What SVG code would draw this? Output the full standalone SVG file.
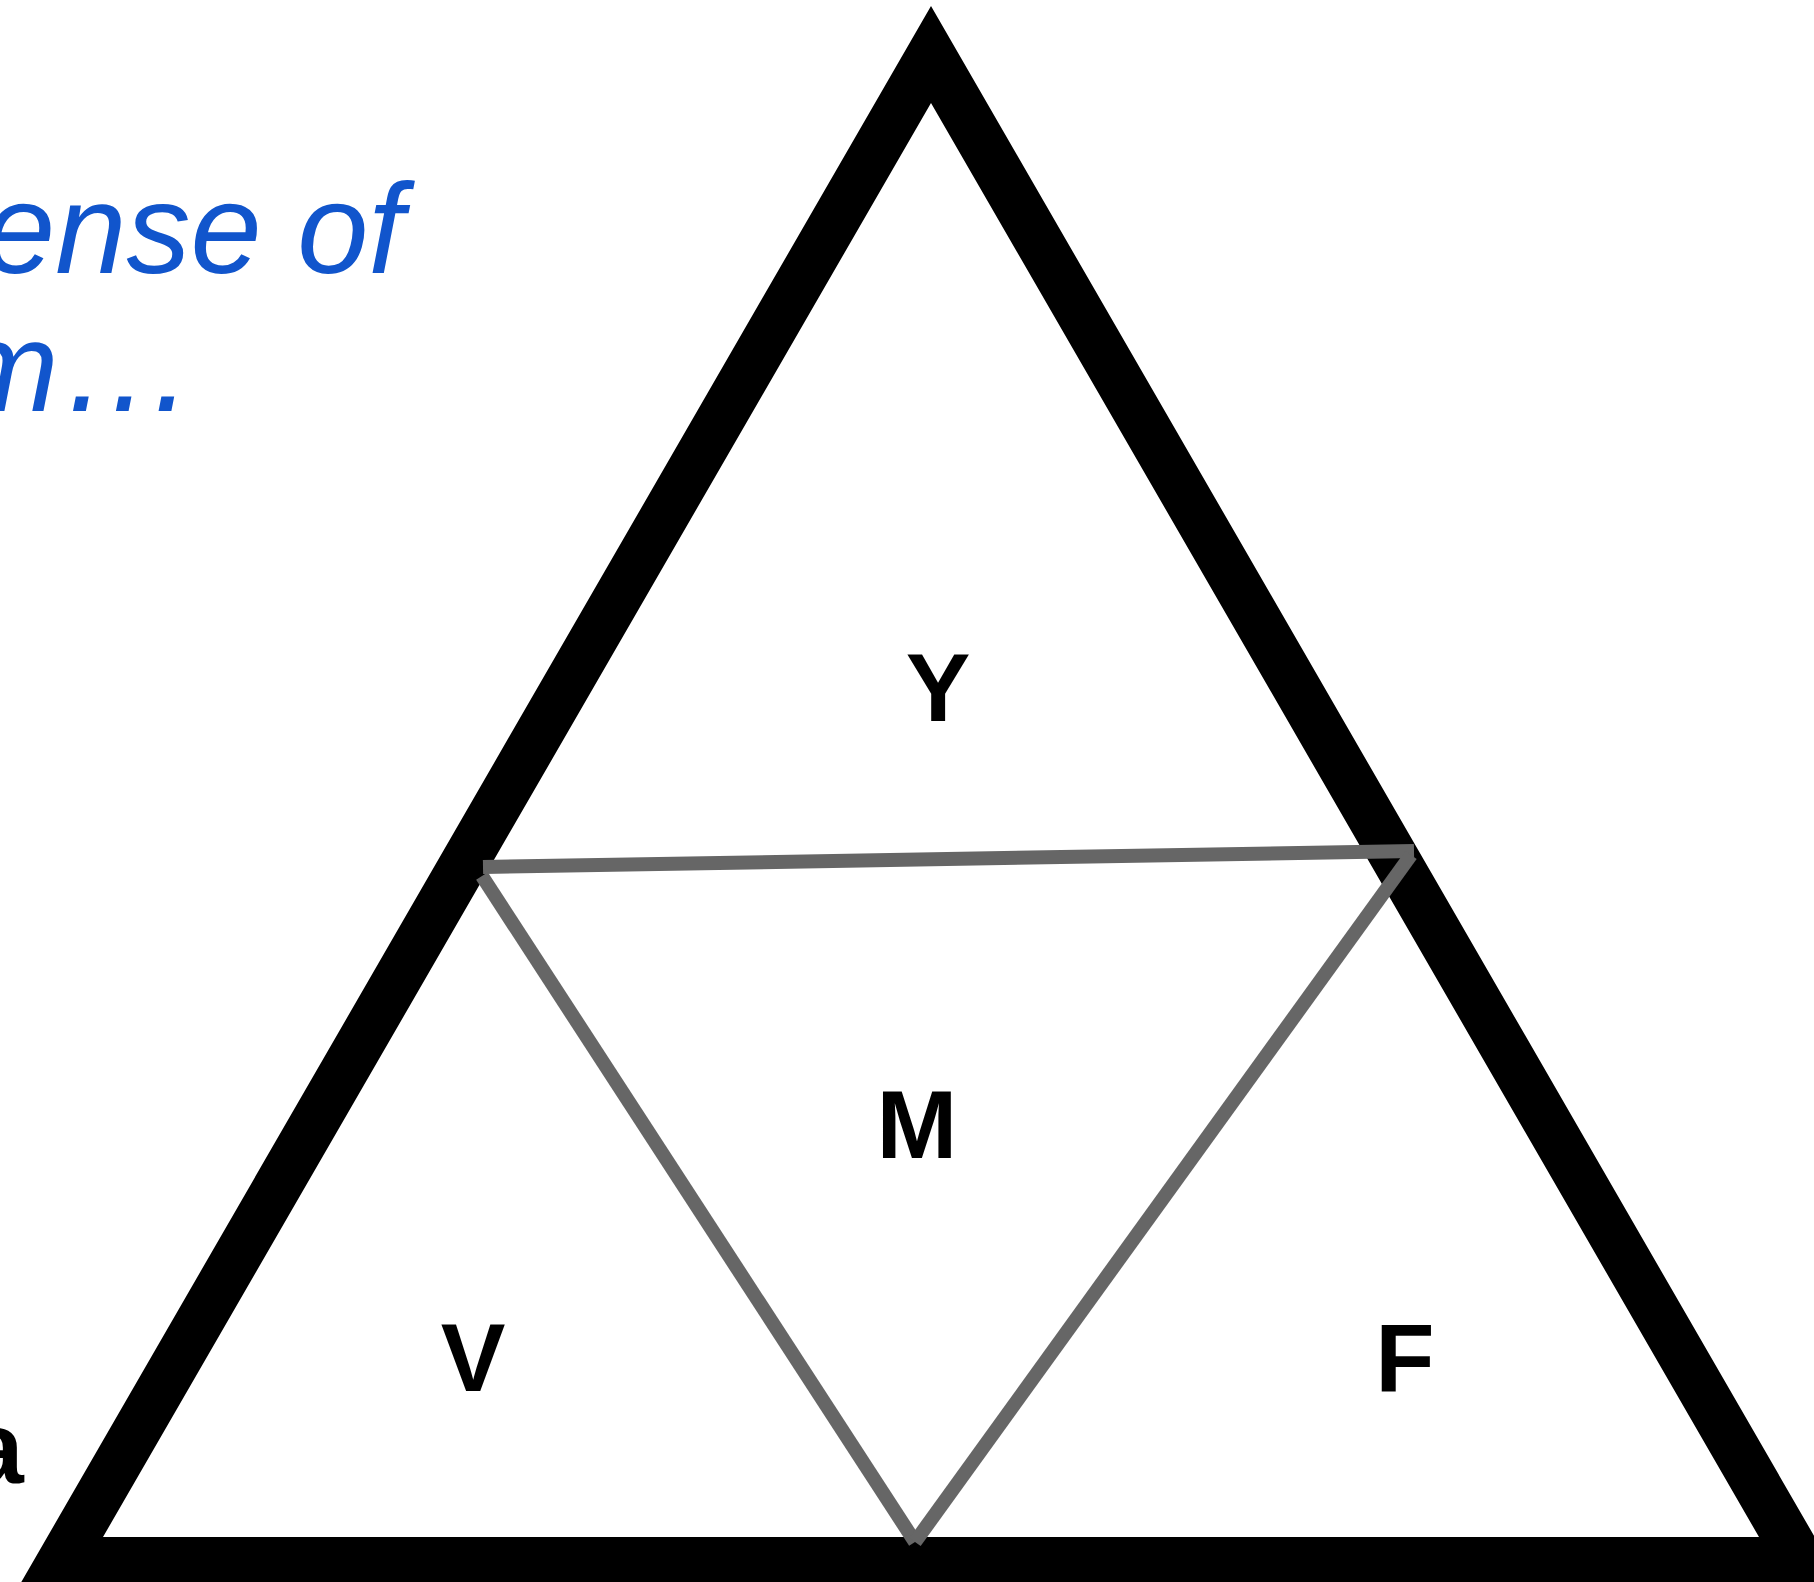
<svg xmlns="http://www.w3.org/2000/svg" width="1814" height="1582" viewBox="0 0 1814 1582">
<style>
.lbl{font-family:"Liberation Sans",Arial,sans-serif;font-weight:bold;font-size:97px;fill:#000;text-anchor:middle}
.blue{font-family:"Liberation Sans",Arial,sans-serif;font-style:italic;font-size:128px;fill:#1155CC}
.conn{stroke:#666666;stroke-width:14;fill:none;stroke-linecap:butt}
</style>
<rect width="1814" height="1582" fill="#fff"/>
<g id="text-blue">
<text class="blue" x="-16" y="273">ense of</text>
<text class="blue" x="-48" y="411">m<tspan dx="2" font-size="135">…</tspan></text>
</g>
<g id="text-a">
<text x="-33" y="1483" font-family="Liberation Sans, Arial, sans-serif" font-weight="bold" font-size="102" fill="#000">a</text>
</g>
<g id="triangle">
<path fill="#000" fill-rule="evenodd" d="M931 6 L19 1586 L1843 1586 Z M931 103 L103 1537 L1759 1537 Z"/>
</g>
<g id="connectors">
<line class="conn" x1="483" y1="867" x2="1414" y2="851"/>
<line class="conn" x1="482" y1="876" x2="915" y2="1542"/>
<line class="conn" x1="1411" y1="855" x2="915" y2="1542"/>
</g>
<g id="node-Y"><text class="lbl" x="938" y="721">Y</text></g>
<g id="node-M"><text class="lbl" x="917" y="1158">M</text></g>
<g id="node-V"><text class="lbl" x="473" y="1391">V</text></g>
<g id="node-F"><text class="lbl" x="1405" y="1391">F</text></g>
</svg>
